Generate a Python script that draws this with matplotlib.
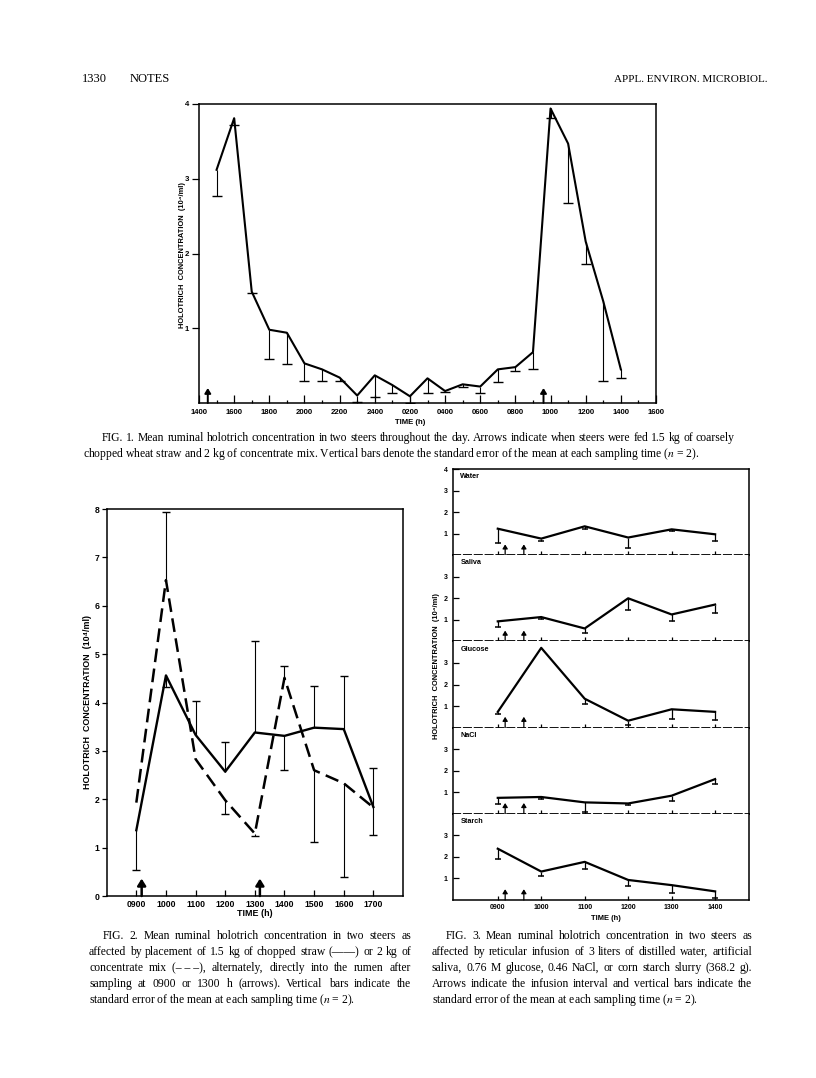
import matplotlib
matplotlib.use('Agg')
import matplotlib.pyplot as plt

W, H = 816, 1078

# FIG. 1 : hours after 1400, mean and the far end of the SE bar
fig1_hours = [1, 2, 3, 4, 5, 6, 7, 8, 9, 10, 11, 12,
              13, 14, 15, 16, 17, 18, 19, 20, 21, 22, 23, 24]
fig1_mean = [3.12, 3.81, 1.49, 0.98, 0.94, 0.53, 0.45, 0.34, 0.10, 0.37, 0.24, 0.09,
             0.33, 0.16, 0.25, 0.22, 0.45, 0.48, 0.68, 3.94, 3.47, 2.16, 1.36, 0.45]
fig1_bar = [2.77, 3.72, 1.47, 0.59, 0.52, 0.30, 0.29, 0.29, 0.01, 0.08, 0.13, 0.00,
            0.13, 0.15, 0.22, 0.13, 0.28, 0.43, 0.45, 3.81, 2.67, 1.86, 0.29, 0.33]
fig1_labels = ['1400', '1600', '1800', '2000', '2200', '2400', '0200',
               '0400', '0600', '0800', '1000', '1200', '1400', '1600']
fig1_feed = [0.5, 19.6]

# FIG. 2 : straw (solid) and concentrate (dashed)
fig2_hours = [9, 10, 11, 12, 13, 14, 15, 16, 17]
fig2_labels = ['0900', '1000', '1100', '1200', '1300', '1400', '1500', '1600', '1700']
straw_mean = [1.36, 4.56, 3.33, 2.57, 3.38, 3.31, 3.48, 3.45, 1.84]
straw_bar = [0.54, 4.32, 4.03, 3.19, 5.27, 2.60, 4.34, 4.54, 2.64]
conc_mean = [1.93, 6.53, 2.83, 1.98, 1.29, 4.51, 2.60, 2.33, 1.83]
conc_bar = [1.93, 7.94, 2.83, 1.70, 1.23, 4.75, 1.11, 0.39, 1.26]
fig2_feed = [9.18, 13.17]

# FIG. 3 : infusions
fig3_hours = [9, 10, 11, 12, 13, 14]
fig3_labels = ['0900', '1000', '1100', '1200', '1300', '1400']
fig3_names = ['Water', 'Saliva', 'Glucose', 'NaCl', 'Starch']
water_mean = [1.23, 0.77, 1.34, 0.82, 1.20, 0.97]
water_bar = [0.58, 0.65, 1.23, 0.34, 1.10, 0.66]
saliva_mean = [0.93, 1.13, 0.60, 2.00, 1.25, 1.71]
saliva_bar = [0.67, 1.04, 0.40, 1.45, 0.95, 1.33]
glucose_mean = [0.73, 3.70, 1.34, 0.32, 0.85, 0.73]
glucose_bar = [0.65, 3.70, 1.11, 0.14, 0.42, 0.36]
nacl_mean = [0.74, 0.78, 0.53, 0.48, 0.84, 1.61]
nacl_bar = [0.45, 0.67, 0.09, 0.40, 0.59, 1.38]
starch_mean = [2.38, 1.32, 1.77, 0.93, 0.69, 0.40]
starch_bar = [1.88, 1.11, 1.44, 0.67, 0.32, 0.08]
fig3_infusion = [9.17, 9.6]

cap1 = ["FIG. 1. Mean ruminal holotrich concentration in two steers throughout the day. Arrows indicate when steers were fed 1.5 kg of coarsely",
        "chopped wheat straw and 2 kg of concentrate mix. Vertical bars denote the standard error of the mean at each sampling time ($n$\u00a0=\u00a02)."]
cap2 = ["FIG. 2. Mean ruminal holotrich concentration in two steers as",
        "affected by placement of 1.5 kg of chopped straw (\u2014\u2014) or 2 kg of",
        "concentrate mix (\u2013\u00a0\u2013\u00a0\u2013), alternately, directly into the rumen after",
        "sampling at 0900 or 1300 h (arrows). Vertical bars indicate the",
        "standard error of the mean at each sampling time ($n$\u00a0=\u00a02)."]
cap3 = ["FIG. 3. Mean ruminal holotrich concentration in two steers as",
        "affected by reticular infusion of 3 liters of distilled water, artificial",
        "saliva, 0.76 M glucose, 0.46 NaCl, or corn starch slurry (368.2 g).",
        "Arrows indicate the infusion interval and vertical bars indicate the",
        "standard error of the mean at each sampling time ($n$\u00a0=\u00a02)."]

plt.rcParams['mathtext.fontset'] = 'stix'
SERIF = 'Liberation Serif'
SANS = 'Liberation Sans'
YLAB = 'HOLOTRICH  CONCENTRATION  (10\u2074/ml)'

fig = plt.figure(figsize=(W / 100, H / 100), dpi=100)


def box(left, top, right, bottom):
    return [left / W, 1 - bottom / H, (right - left) / W, (bottom - top) / H]


def ptext(x, y, s, **kw):
    return fig.text(x / W, 1 - y / H, s, **kw)


def bars(ax, x, mean, end, cap, lw=0.8):
    xs = [a for a, m, e in zip(x, mean, end) if m != e]
    ms = [m for m, e in zip(mean, end) if m != e]
    es = [e for m, e in zip(mean, end) if m != e]
    ax.vlines(xs, ms, es, color='k', lw=lw)
    ax.plot(xs, es, ls='none', marker='_', ms=cap, mew=lw + 0.2, color='k')


def arrow(ax, x, h, lw, hw):
    ax.annotate('', xy=(x, h), xytext=(x, 0),
                arrowprops=dict(arrowstyle='-|>,head_length=%.2f,head_width=%.2f' % (hw * 1.6, hw),
                                lw=lw, color='k', shrinkA=0, shrinkB=0))


def style(ax, size):
    for s in ax.spines.values():
        s.set_linewidth(1.1)
    ax.tick_params(labelsize=size, width=0.9)
    for t in ax.get_xticklabels() + ax.get_yticklabels():
        t.set_fontfamily(SANS)
        t.set_fontweight('bold')


# ---------------- FIG. 1
ax1 = fig.add_axes(box(199, 104, 656, 403))
ax1.plot(fig1_hours, fig1_mean, color='k', lw=1.5)
bars(ax1, fig1_hours, fig1_mean, fig1_bar, 7)
for x in fig1_feed:
    arrow(ax1, x, 0.2, 1.4, 0.18)
ax1.set_xlim(0, 26)
ax1.set_ylim(0, 4)
ax1.set_xticks(range(0, 27, 2))
ax1.set_xticklabels(fig1_labels)
ax1.set_xticks(range(1, 26, 2), minor=True)
ax1.set_yticks([1, 2, 3, 4])
ax1.tick_params(axis='x', which='major', direction='in', length=5.5, pad=4)
ax1.tick_params(axis='x', which='minor', direction='in', length=2.5, width=0.9)
ax1.tick_params(axis='y', direction='out', length=5, pad=2)
style(ax1, 5.6)
ptext(182, 255, YLAB, rotation=90, ha='center', va='center', fontsize=5.4,
      fontfamily=SANS, fontweight='bold')
ptext(410, 422, 'TIME (h)', ha='center', va='center', fontsize=5.6,
      fontfamily=SANS, fontweight='bold')

# ---------------- FIG. 2
ax2 = fig.add_axes(box(106.7, 509, 403, 896))
ax2.plot(fig2_hours, straw_mean, color='k', lw=1.7)
ax2.plot(fig2_hours, conc_mean, color='k', lw=1.8, ls=(0, (5.5, 2.6)))
bars(ax2, fig2_hours, straw_mean, straw_bar, 6)
bars(ax2, fig2_hours, conc_mean, conc_bar, 6)
for x in fig2_feed:
    arrow(ax2, x, 0.36, 1.8, 0.25)
ax2.set_xlim(8, 18)
ax2.set_ylim(0, 8)
ax2.set_xticks(fig2_hours)
ax2.set_xticklabels(fig2_labels)
ax2.set_yticks(range(0, 9))
ax2.tick_params(axis='x', direction='in', length=4.5, pad=3)
ax2.tick_params(axis='y', direction='out', length=3.5, pad=1.5)
style(ax2, 6.2)
ptext(88, 702, YLAB, rotation=90, ha='center', va='center', fontsize=6.4,
      fontfamily=SANS, fontweight='bold')
ptext(255, 914, 'TIME (h)', ha='center', va='center', fontsize=6.4,
      fontfamily=SANS, fontweight='bold')

# ---------------- FIG. 3
panels = [(water_mean, water_bar), (saliva_mean, saliva_bar), (glucose_mean, glucose_bar),
          (nacl_mean, nacl_bar), (starch_mean, starch_bar)]
top, bottom = 469, 900
step = (bottom - top) / len(panels)
for i, (name, (mean, end)) in enumerate(zip(fig3_names, panels)):
    ax = fig.add_axes(box(453, top + i * step, 749, top + (i + 1) * step))
    ax.plot(fig3_hours, mean, color='k', lw=1.6)
    bars(ax, fig3_hours, mean, end, 5, lw=0.9)
    for x in fig3_infusion:
        arrow(ax, x, 0.5, 0.9, 0.15)
    ax.set_xlim(7.97, 14.78)
    ax.set_ylim(0, 4)
    ax.set_xticks(fig3_hours)
    ax.set_yticks([1, 2, 3, 4] if i == 0 else [1, 2, 3])
    ax.tick_params(axis='x', direction='in', length=3, pad=3)
    ax.tick_params(axis='y', direction='in', length=4, pad=4)
    if i < len(panels) - 1:
        ax.set_xticklabels([])
    else:
        ax.set_xticklabels(fig3_labels)
    if i > 0:
        ax.spines['top'].set_visible(False)
    style(ax, 5.0)
    if i < len(panels) - 1:
        ax.spines['bottom'].set_linestyle((0, (4, 2)))
        ax.spines['bottom'].set_linewidth(1.3)
    ax.text(0.025, 0.91, name, transform=ax.transAxes, ha='left', va='center',
            fontsize=5.2, fontfamily=SANS, fontweight='bold')
ptext(436, 666, YLAB, rotation=90, ha='center', va='center', fontsize=5.4,
      fontfamily=SANS, fontweight='bold')
ptext(606, 918, 'TIME (h)', ha='center', va='center', fontsize=5.4,
      fontfamily=SANS, fontweight='bold')

# ---------------- page text
ptext(82, 82, '1330', fontsize=9, fontfamily=SERIF, va='baseline')
ptext(130, 82, 'NOTES', fontsize=9, fontfamily=SERIF, va='baseline')
ptext(767, 82, 'APPL. ENVIRON. MICROBIOL.', fontsize=8, fontfamily=SERIF,
      va='baseline', ha='right')

renderer = fig.canvas.get_renderer()


def paragraph(lines, x0, x1, y0, indent, size):
    for i, line in enumerate(lines):
        y = y0 + 16 * i
        left = x0 + (indent if i == 0 else 0)
        if i == len(lines) - 1:
            ptext(left, y, line, fontsize=size, fontfamily=SERIF, va='baseline')
            continue
        words = line.split(' ')
        ts = [ptext(0, y, w, fontsize=size, fontfamily=SERIF, va='baseline') for w in words]
        ws = [t.get_window_extent(renderer).width for t in ts]
        gap = (x1 - left - sum(ws)) / (len(ws) - 1)
        x = left
        for t, w in zip(ts, ws):
            t.set_x(x / W)
            x += w + gap


paragraph(cap1, 83, 735, 441, 19, 8.4)
paragraph(cap2, 89, 411, 939, 14, 8.4)
paragraph(cap3, 432, 752, 939, 14, 8.4)

fig.savefig('out.png', dpi=100)
